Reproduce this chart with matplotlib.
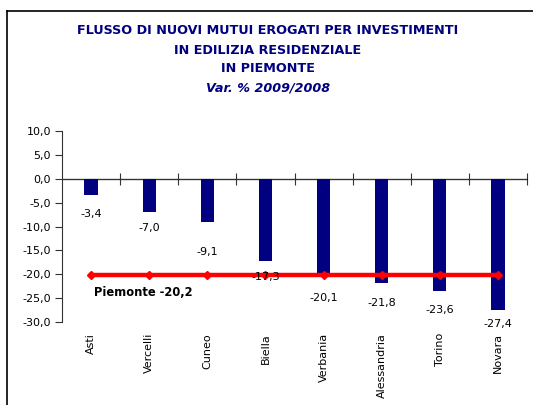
import matplotlib
matplotlib.use("Agg")
import matplotlib.pyplot as plt
from matplotlib.ticker import FuncFormatter
import numpy as np

categories = ["Asti", "Vercelli", "Cuneo", "Biella", "Verbania", "Alessandria", "Torino", "Novara"]
values = [-3.4, -7.0, -9.1, -17.3, -20.1, -21.8, -23.6, -27.4]
piemonte = -20.2
title_lines = ["FLUSSO DI NUOVI MUTUI EROGATI PER INVESTIMENTI",
               "IN EDILIZIA RESIDENZIALE",
               "IN PIEMONTE"]
subtitle = "Var. % 2009/2008"
yticks = [10, 5, 0, -5, -10, -15, -20, -25, -30]

# label offsets below bar ends (points), styling only
label_offsets = [10, 8, 18, 8, 13, 11, 10, 7]

W, H = 533, 405
fig = plt.figure(figsize=(W / 100, H / 100), dpi=100)
fig.patch.set_facecolor("white")

# frame (left and top edges visible)
fig.add_artist(plt.Line2D([7 / W, 7 / W], [0, 1 - 11 / H], color="black", lw=1.2))
fig.add_artist(plt.Line2D([7 / W, 1], [1 - 11 / H, 1 - 11 / H], color="black", lw=1.2))

navy = "#000080"
ys = [31, 50, 69]
for t, y in zip(title_lines, ys):
    fig.text(268 / W, 1 - y / H, t, ha="center", va="center", fontsize=9.2,
             fontweight="bold", color=navy)
fig.text(268 / W, 1 - 88 / H, subtitle, ha="center", va="center", fontsize=9.2,
         fontweight="bold", fontstyle="italic", color=navy)

left, right, top, bottom = 62 / W, 527 / W, 1 - 131 / H, 1 - 322 / H
ax = fig.add_axes([left, bottom, right - left, top - bottom])
n = len(categories)
x = np.arange(n)
ax.bar(x, values, width=0.23, color=navy, zorder=2)
ax.set_xlim(-0.5, n - 0.5)
ax.set_ylim(-30, 10)
ax.axhline(0, color="#333333", lw=0.9, zorder=1)

for xi, v, off in zip(x, values, label_offsets):
    ax.annotate(f"{v:.1f}".replace(".", ","), (xi, v), xytext=(0, -off),
                textcoords="offset points", ha="center", va="top", fontsize=8, zorder=4)

ax.plot(x, [piemonte] * n, color="#ff0000", lw=3.2, marker="D", markersize=4, zorder=3)
ax.text(0.05, -23.9, f"Piemonte {piemonte:.1f}".replace(".", ","), fontsize=8.3,
        fontweight="bold", va="center", ha="left", zorder=4)

for s in ["top", "right", "bottom"]:
    ax.spines[s].set_visible(False)
ax.spines["left"].set_color("#333333")
ax.set_yticks(yticks)
ax.yaxis.set_major_formatter(FuncFormatter(lambda v, p: f"{v:.1f}".replace(".", ",")))
ax.tick_params(axis="y", direction="out", length=5, labelsize=8, pad=3, color="#333333")

ax.set_xticks(x)
ax.set_xticklabels(categories, rotation=90, fontsize=8)
ax.tick_params(axis="x", length=0, pad=8)

sec = ax.secondary_xaxis(30 / 40)
sec.set_xticks(np.arange(0.5, n + 0.5, 1.0))
sec.tick_params(axis="x", direction="inout", length=8, labelbottom=False, labeltop=False,
                color="#333333")

fig.savefig("out.png", dpi=100)
